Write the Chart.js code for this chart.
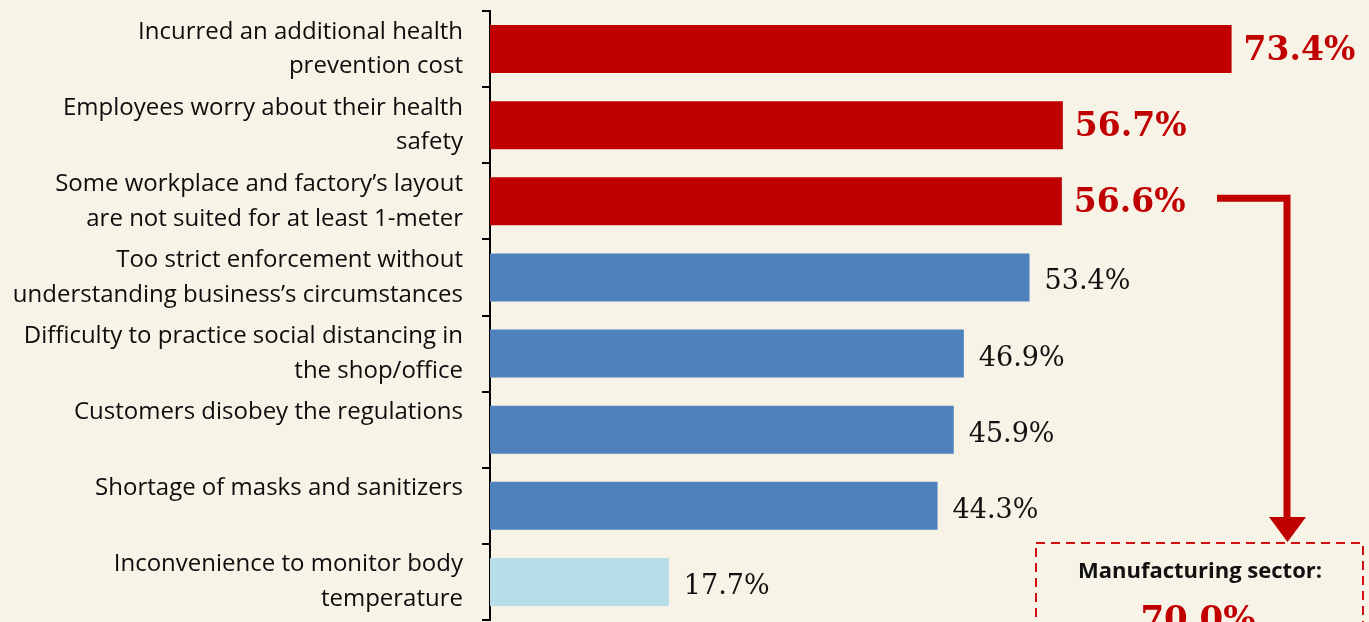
<!DOCTYPE html>
<html>
<head>
<meta charset="utf-8">
<script src="https://cdn.jsdelivr.net/npm/chart.js@4"></script>
<style>
  html, body { margin: 0; padding: 0; background: #f8f3e7; overflow: hidden; }
  canvas { display: block; }
</style>
</head>
<body>
<canvas id="myChart" width="1369" height="622"></canvas>
<script>
// categories (multi-line, as wrapped in the original)
const categories = [
  ["Incurred an additional health", "prevention cost"],
  ["Employees worry about their health", "safety"],
  ["Some workplace and factory\u2019s layout", "are not suited for at least 1-meter"],
  ["Too strict enforcement without", "understanding business\u2019s circumstances"],
  ["Difficulty to practice social distancing in", "the shop/office"],
  ["Customers disobey the regulations", ""],
  ["Shortage of masks and sanitizers", ""],
  ["Inconvenience to monitor body", "temperature"]
];
const shares = [73.4, 56.7, 56.6, 53.4, 46.9, 45.9, 44.3, 17.7];
const barColors = ["#c00000", "#c00000", "#c00000", "#4f81bd", "#4f81bd", "#4f81bd", "#4f81bd", "#b7dee8"];
const highlighted = [true, true, true, false, false, false, false, false];
const boxTitle = "Manufacturing sector:";
const boxValue = "70.0%";

const bgPlugin = {
  id: 'bg',
  beforeDraw(chart) {
    const ctx = chart.ctx;
    ctx.save();
    ctx.fillStyle = '#f8f3e7';
    ctx.fillRect(0, 0, chart.width, chart.height);
    ctx.restore();
  }
};

const valueLabels = {
  id: 'valueLabels',
  afterDatasetsDraw(chart) {
    const ctx = chart.ctx;
    const meta = chart.getDatasetMeta(0);
    ctx.save();
    ctx.textAlign = 'left';
    ctx.textBaseline = 'middle';
    meta.data.forEach((bar, i) => {
      if (highlighted[i]) {
        ctx.font = 'bold 33px "DejaVu Serif"';
        ctx.fillStyle = '#c00000';
        ctx.fillText(shares[i].toFixed(1) + '%', bar.x + 12, bar.y + 2);
      } else {
        ctx.font = '27px "DejaVu Serif"';
        ctx.fillStyle = '#111';
        ctx.fillText(shares[i].toFixed(1) + '%', bar.x + 15, bar.y + 5);
      }
    });
    ctx.restore();
  }
};

// arrow + dashed call-out box for the layout bar
const callout = {
  id: 'callout',
  afterDraw(chart) {
    const ctx = chart.ctx;
    const bar = chart.getDatasetMeta(0).data[2];
    const y0 = bar.y - 3;
    const xv = 1287;
    ctx.save();
    ctx.strokeStyle = '#c00000';
    ctx.fillStyle = '#c00000';
    ctx.lineWidth = 7;
    ctx.beginPath();
    ctx.moveTo(1217, y0);
    ctx.lineTo(xv, y0);
    ctx.lineTo(xv, 520);
    ctx.stroke();
    ctx.beginPath();
    ctx.moveTo(1269, 517);
    ctx.lineTo(1306, 517);
    ctx.lineTo(xv + 0.5, 542);
    ctx.closePath();
    ctx.fill();

    ctx.lineWidth = 2;
    ctx.setLineDash([9, 6]);
    ctx.strokeStyle = '#d01010';
    ctx.strokeRect(1036, 543, 327, 100);
    ctx.setLineDash([]);

    ctx.textAlign = 'center';
    ctx.textBaseline = 'alphabetic';
    ctx.fillStyle = '#111';
    ctx.font = 'bold 22px "Open Sans"';
    ctx.fillText(boxTitle, 1200, 578);
    ctx.fillStyle = '#c00000';
    ctx.font = 'bold 34px "DejaVu Serif"';
    ctx.fillText(boxValue, 1198, 630);
    ctx.restore();
  }
};

new Chart(document.getElementById('myChart'), {
  type: 'bar',
  data: {
    labels: categories,
    datasets: [{
      data: shares,
      backgroundColor: barColors,
      borderWidth: 0,
      categoryPercentage: 1,
      barPercentage: 0.63
    }]
  },
  options: {
    indexAxis: 'y',
    responsive: false,
    animation: false,
    devicePixelRatio: 1,
    layout: { padding: { top: 11, bottom: 2, left: 0, right: 0 } },
    plugins: { legend: { display: false }, tooltip: { enabled: false } },
    scales: {
      x: { display: false, min: 0, max: 87 },
      y: {
        afterFit(scale) {
          scale.width = 490;
          scale.paddingTop = 0;
          scale.paddingBottom = 0;
        },
        border: { display: true, color: '#000', width: 2 },
        grid: { display: true, drawOnChartArea: false, color: '#000', lineWidth: 2, tickLength: 8, offset: true },
        ticks: {
          color: '#0d0d0d',
          padding: 19,
          autoSkip: false,
          font: { family: '"Open Sans"', size: 24, lineHeight: 1.45 }
        }
      }
    }
  },
  plugins: [bgPlugin, valueLabels, callout]
});
</script>
</body>
</html>
